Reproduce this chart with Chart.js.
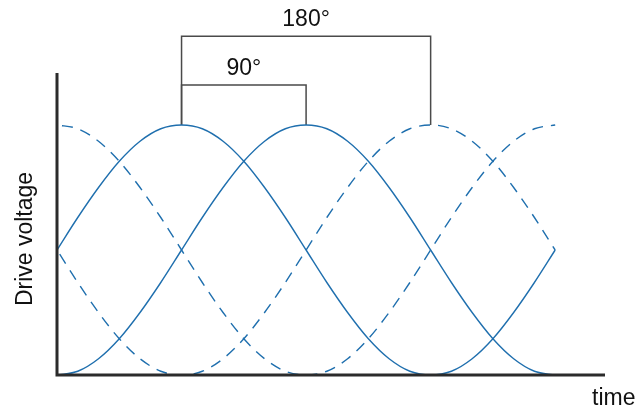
<!DOCTYPE html>
<html>
<head>
<meta charset="utf-8">
<script src="https://cdn.jsdelivr.net/npm/chart.js@4.4.1/dist/chart.umd.min.js"></script>
<style>
  html, body { margin: 0; padding: 0; background: #fff; }
  #wrap { width: 639px; height: 410px; position: relative; }
</style>
</head>
<body>
<div id="wrap"><canvas id="chart"></canvas></div>
<script>
// Phase angle (degrees) along the time axis
const phase = [0, 15, 30, 45, 60, 75, 90, 105, 120, 135, 150, 165, 180,
               195, 210, 225, 240, 255, 270, 285, 300, 315, 330, 345, 360];

// Drive voltages (peak = 1, trough = -1)
const solidA = [0, 0.26, 0.5, 0.71, 0.87, 0.97, 1, 0.97, 0.87, 0.71, 0.5, 0.26, 0,
                -0.26, -0.5, -0.71, -0.87, -0.97, -1, -0.97, -0.87, -0.71, -0.5, -0.26, 0];
const solidB = [-1, -0.97, -0.87, -0.71, -0.5, -0.26, 0, 0.26, 0.5, 0.71, 0.87, 0.97, 1,
                0.97, 0.87, 0.71, 0.5, 0.26, 0, -0.26, -0.5, -0.71, -0.87, -0.97, -1];
const dashedC = [1, 0.97, 0.87, 0.71, 0.5, 0.26, 0, -0.26, -0.5, -0.71, -0.87, -0.97, -1,
                 -0.97, -0.87, -0.71, -0.5, -0.26, 0, 0.26, 0.5, 0.71, 0.87, 0.97, 1];
const dashedD = [0, -0.26, -0.5, -0.71, -0.87, -0.97, -1, -0.97, -0.87, -0.71, -0.5, -0.26, 0,
                 0.26, 0.5, 0.71, 0.87, 0.97, 1, 0.97, 0.87, 0.71, 0.5, 0.26, 0];

// Phase brackets: [start, end, height, label]
const bracket90 = [90, 180, 1.32, '90°'];
const bracket180 = [90, 270, 1.71, '180°'];

const blue = '#1f6fae';
const grey = '#4a4a4a';

function toPoints(ys) {
    return phase.map((x, i) => ({ x: x, y: ys[i] }));
}

function bracketPoints(b) {
    return [{ x: b[0], y: 1 }, { x: b[0], y: b[2] }, { x: b[1], y: b[2] }, { x: b[1], y: 1 }];
}

const curve = (data, dashed) => ({
    data: toPoints(data),
    borderColor: blue,
    borderWidth: 1.4,
    borderDash: dashed ? [11, 8] : [],
    borderDashOffset: dashed ? -5 : 0,
    pointRadius: 0,
    cubicInterpolationMode: 'monotone',
    fill: false
});

const bracket = (b) => ({
    data: bracketPoints(b),
    borderColor: grey,
    borderWidth: 1.5,
    pointRadius: 0,
    tension: 0,
    clip: false,
    fill: false
});

// Axes and labels drawn on top of the chart area
const decorations = {
    id: 'decorations',
    afterDraw(chart) {
        const { ctx, chartArea, scales } = chart;
        const xs = scales.x, ys = scales.y;
        ctx.save();
        ctx.strokeStyle = '#2b2b2b';
        ctx.lineWidth = 3;
        ctx.beginPath();
        ctx.moveTo(chartArea.left, chartArea.top);
        ctx.lineTo(chartArea.left, chartArea.bottom);
        ctx.lineTo(chartArea.right, chartArea.bottom);
        ctx.stroke();

        ctx.fillStyle = '#111';
        ctx.font = '23px "Liberation Sans", Arial, sans-serif';
        ctx.textAlign = 'center';
        ctx.textBaseline = 'alphabetic';
        [bracket90, bracket180].forEach(b => {
            const cx = (xs.getPixelForValue(b[0]) + xs.getPixelForValue(b[1])) / 2;
            ctx.fillText(b[3], cx, ys.getPixelForValue(b[2]) - 10);
        });

        ctx.textAlign = 'left';
        ctx.fillText('time', 592, 405);

        ctx.translate(32, 239);
        ctx.rotate(-Math.PI / 2);
        ctx.textAlign = 'center';
        ctx.fillText('Drive voltage', 0, 0);
        ctx.restore();
    }
};

new Chart(document.getElementById('chart'), {
    type: 'line',
    data: {
        datasets: [
            curve(solidA, false),
            curve(solidB, false),
            curve(dashedC, true),
            curve(dashedD, true),
            bracket(bracket90),
            bracket(bracket180)
        ]
    },
    options: {
        responsive: true,
        maintainAspectRatio: false,
        animation: false,
        layout: { padding: { left: 57, top: 73, right: 34, bottom: 35 } },
        scales: {
            x: { type: 'linear', min: 0, max: 396, display: false },
            y: { type: 'linear', min: -1, max: 1.416, display: false }
        },
        plugins: {
            legend: { display: false },
            tooltip: { enabled: false }
        }
    },
    plugins: [decorations]
});
</script>
</body>
</html>
